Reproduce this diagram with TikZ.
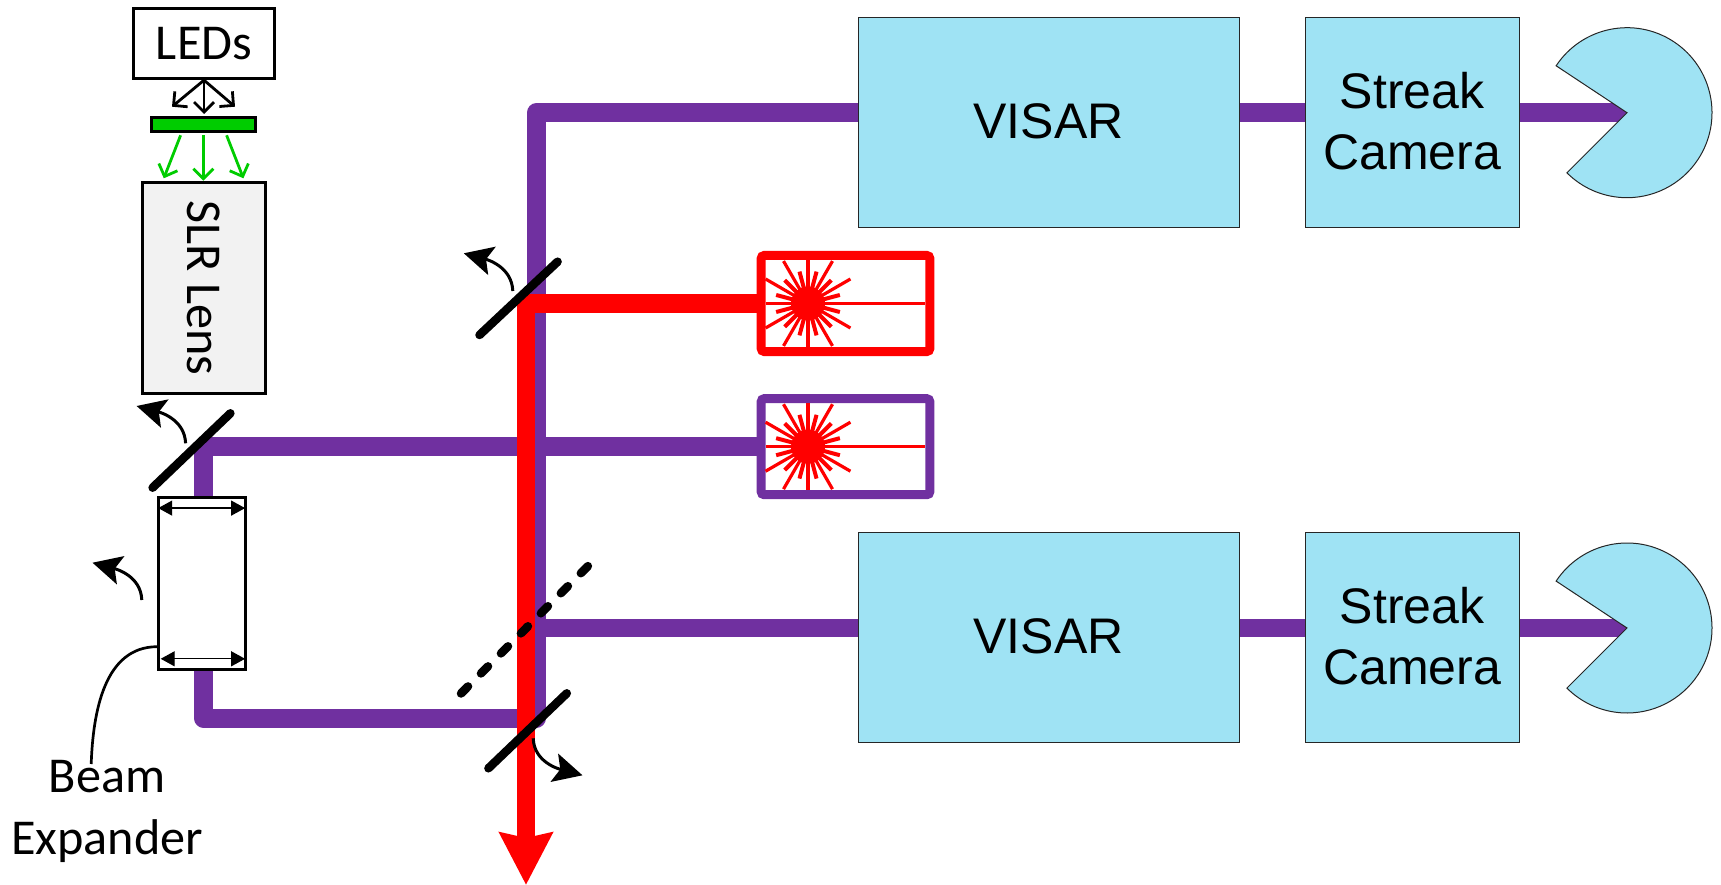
\documentclass[tikz,border=0pt]{standalone}
\usepackage{fontspec}
\setmainfont{Carlito}
\newfontfamily\arialfont{Liberation Sans}
\usetikzlibrary{arrows.meta,backgrounds}
\definecolor{beampurple}{HTML}{7030A0}
\definecolor{visarblue}{HTML}{9FE3F4}
\definecolor{ledgreen}{HTML}{00CC00}
\tikzset{
  optic/.style = {draw = black, line width = 3pt, inner sep = 0pt},
  visbox/.style = {draw = black!85, line width = 1pt, fill = visarblue, inner sep = 0pt, align = center,
    font = \arialfont\fontsize{50}{61}\selectfont},
  laserbox/.style = {line width = 9pt, fill = white, rounded corners = 3pt, minimum width = 168.6pt, minimum height = 96pt, inner sep = 0pt},
  purplebeam/.style = {draw = beampurple, line width = 18.7pt, line join = round},
  redbeam/.style = {draw = red, line width = 18.7pt, line join = round},
  mirror/.style = {draw = black, line width = 8.5pt, line cap = round},
  tilt/.style = {draw = black, line width = 3pt, -{Stealth[length = 29pt, width = 29pt, inset = 6pt]}},
  ledray/.style = {line width = 2.8pt, -{Straight Barb[length = 10pt, width = 20pt]}},
  lensing/.style = {draw = black, line width = 1.3pt, <->, >={Stealth[length = 14pt, width = 15pt, inset = 0pt]}}
}
\begin{document}
\begin{tikzpicture}[x = 1pt, y = 1pt, font = \fontsize{50.2}{62}\selectfont]
  \useasboundingbox (0, 0) rectangle (1721, -885);

  % sources and lens
  \node[optic, fill = white, minimum width = 141.4pt, minimum height = 70.6pt] (leds) at (204, -43.4) {LEDs};
  \node[optic, fill = ledgreen, minimum width = 104.1pt, minimum height = 14pt] (filter) at (203.4, -124.7) {};
  \node[optic, fill = black!5, rotate = -90, minimum width = 211pt, minimum height = 122.7pt] (lens) at (203.8, -288.2) {SLR Lens};
  \node[optic, fill = white, minimum width = 86.8pt, minimum height = 172.6pt] (expander) at (202.2, -583.6) {};
  \node[align = center, inner sep = 0pt] (expanderlbl) at (107, -811) {Beam\\Expander};

  % lasers
  \node[laserbox, draw = red] (laserR) at (845.5, -303.5) {};
  \node[laserbox, draw = beampurple] (laserP) at (845.5, -446.7) {};

  % VISAR and cameras
  \node[visbox, minimum width = 381pt, minimum height = 209.7pt] (visarA) at (1048.5, -122.2) {\raisebox{3pt}{VISAR}};
  \node[visbox, minimum width = 214pt, minimum height = 209.7pt] (streakA) at (1412, -122.2) {\raisebox{3pt}{Streak}\\\raisebox{3pt}{Camera}};
  \node[visbox, minimum width = 381pt, minimum height = 209.7pt] (visarB) at (1048.5, -637.5) {\raisebox{3pt}{VISAR}};
  \node[visbox, minimum width = 214pt, minimum height = 209.7pt] (streakB) at (1412, -637.5) {\raisebox{3pt}{Streak}\\\raisebox{3pt}{Camera}};

  \coordinate (detA) at (1627, -112.7);
  \coordinate (detB) at (1627, -628);
  \coordinate (trunkT) at (536.3, -112.7);
  \coordinate (trunkB) at (536.3, -718.3);
  \coordinate (leftB) at (203.6, -718.3);
  \coordinate (redB) at (526, -885);

  % beams go under everything
  \begin{scope}[on background layer]
    \draw[purplebeam] (detA) -- (streakA.east |- detA);
    \draw[purplebeam] (streakA.west |- detA) -- (visarA.east |- detA);
    \draw[purplebeam] (detB) -- (streakB.east |- detB);
    \draw[purplebeam] (streakB.west |- detB) -- (visarB.east |- detB);
    \draw[purplebeam] (visarB.west |- detB) -- (trunkB |- detB);
    \draw[purplebeam] (visarA.west |- detA) -- (trunkT) -- (trunkB) -- (leftB) |- (laserP.west);
    \draw[redbeam, -{Stealth[length = 52pt, width = 52pt, inset = 5pt]}] (laserR.west) -| (redB);
  \end{scope}

  % detectors
  \draw[visbox] (detA) -- ++(146.5:85) arc[start angle = 146.5, end angle = -135, radius = 85] -- cycle;
  \draw[visbox] (detB) -- ++(146.5:85) arc[start angle = 146.5, end angle = -135, radius = 85] -- cycle;

  % laser stars
  \foreach \lsr in {laserR, laserP} {
    \coordinate (star) at ([xshift = -37.5pt]\lsr.center);
    \fill[red] (star) circle (17);
    \draw[red, line width = 3.5pt, shorten > = 9pt, shorten < = 9pt] (\lsr.west) -- (\lsr.east);
    \draw[red, line width = 3.2pt, shorten > = 9pt, shorten < = 9pt] (\lsr.north -| star) -- (\lsr.south -| star);
    \foreach \ang in {30, 60, 120, 150, 210, 240, 300, 330}
      \draw[red, line width = 3.2pt] (star) -- ++(\ang:49);
    \foreach \ang in {15, 45, 75, 105, 135, 165, 195, 225, 255, 285, 315, 345}
      \draw[red, line width = 4pt] (star) -- ++(\ang:33);
  }

  % LED rays
  \draw[ledray] (leds.south) -- (204, -114);
  \draw[ledray] (leds.south) -- (172, -106.7);
  \draw[ledray] (leds.south) -- (235, -106.7);
  \draw[ledray, ledgreen] (180.6, -135.3) -- (163.8, -178.3);
  \draw[ledray, ledgreen] (203.4, -135.3) -- (203.4, -180.7);
  \draw[ledray, ledgreen] (226.6, -135.3) -- (243.4, -178.3);

  % mirrors
  \draw[mirror] (479.5, -335) -- (557.6, -261.7);
  \draw[mirror] (152.6, -487.7) -- (230.4, -413.3);
  \draw[mirror] (488.4, -768.3) -- (566.8, -693.3);
  \draw[mirror, dash pattern = on 10pt off 18.3pt] (461, -693.5) -- (591.5, -562.5);

  % tilts
  \draw[tilt] (512.8, -291) to[out = 92, in = -15] (463.8, -253.3);
  \draw[tilt] (185.6, -443.3) to[out = 92, in = -15] (136.6, -406);
  \draw[tilt] (141.8, -600) to[out = 92, in = -15] (92.5, -562.7);
  \draw[tilt] (533.2, -738.3) to[out = -88, in = 165] (582.5, -775.3);

  % beam expander
  \draw[lensing] ([shift = {(0.9, -12.3)}]expander.north west) -- ([shift = {(-2, -12.3)}]expander.north east);
  \draw[lensing] ([shift = {(3.4, 12.6)}]expander.south west) -- ([shift = {(-2, 12.6)}]expander.south east);
  \coordinate (leaderS) at (expander.west |- 0, -646.7);
  \draw[line width = 2.7pt] (leaderS) to[out = 180, in = 88] (91.2, -764);
\end{tikzpicture}
\end{document}
